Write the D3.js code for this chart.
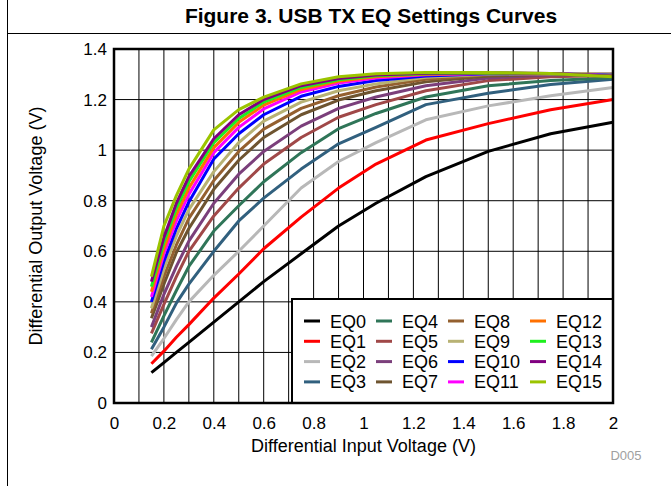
<!DOCTYPE html>
<html>
<head>
<meta charset="utf-8">
<script src="https://cdn.jsdelivr.net/npm/d3@7"></script>
<style>
  body { margin: 0; background: #fff; }
  text { font-family: "Liberation Sans", Arial, sans-serif; }
</style>
</head>
<body>
<div id="chart"></div>
<script>
"use strict";

// Input voltage sample points (V)
const inputV = [0.15, 0.2, 0.25, 0.3, 0.4, 0.5, 0.6, 0.75, 0.9, 1.05, 1.25, 1.5, 1.75, 2.0];

const seriesNames = ["EQ0", "EQ1", "EQ2", "EQ3", "EQ4", "EQ5", "EQ6", "EQ7",
                     "EQ8", "EQ9", "EQ10", "EQ11", "EQ12", "EQ13", "EQ14", "EQ15"];

const seriesColors = ["#000000", "#ff0000", "#b8b8b8", "#31607e", "#2f7558", "#a04848",
                      "#7b3f7b", "#6e5430", "#94602f", "#b8b274", "#0000ff", "#ff00ff",
                      "#ff7000", "#1ef01e", "#800080", "#9bc400"];

// Output voltage per EQ setting
const eq0  = [0.12, 0.16, 0.20, 0.24, 0.32, 0.40, 0.48, 0.59, 0.70, 0.79, 0.895, 0.995, 1.065, 1.11];
const eq1  = [0.155, 0.205, 0.26, 0.31, 0.415, 0.51, 0.61, 0.735, 0.85, 0.945, 1.04, 1.105, 1.16, 1.20];
const eq2  = [0.185, 0.255, 0.33, 0.40, 0.505, 0.60, 0.70, 0.85, 0.955, 1.03, 1.12, 1.175, 1.215, 1.248];
const eq3  = [0.213, 0.30, 0.395, 0.47, 0.60, 0.72, 0.81, 0.925, 1.025, 1.09, 1.18, 1.225, 1.26, 1.28];
const eq4  = [0.24, 0.345, 0.445, 0.54, 0.68, 0.78, 0.875, 0.99, 1.085, 1.145, 1.21, 1.255, 1.275, 1.286];
const eq5  = [0.275, 0.39, 0.50, 0.60, 0.74, 0.85, 0.945, 1.05, 1.13, 1.18, 1.235, 1.275, 1.29, 1.295];
const eq6  = [0.30, 0.43, 0.54, 0.64, 0.79, 0.905, 0.995, 1.095, 1.165, 1.21, 1.255, 1.285, 1.297, 1.30];
const eq7  = [0.335, 0.47, 0.595, 0.69, 0.845, 0.96, 1.05, 1.14, 1.198, 1.235, 1.27, 1.293, 1.30, 1.30];
const eq8  = [0.355, 0.50, 0.625, 0.73, 0.88, 0.995, 1.083, 1.165, 1.215, 1.25, 1.28, 1.298, 1.302, 1.30];
const eq9  = [0.375, 0.53, 0.66, 0.765, 0.915, 1.03, 1.115, 1.19, 1.235, 1.262, 1.288, 1.30, 1.302, 1.298];
const eq10 = [0.40, 0.56, 0.69, 0.795, 0.965, 1.065, 1.14, 1.213, 1.252, 1.275, 1.293, 1.302, 1.302, 1.296];
const eq11 = [0.42, 0.59, 0.72, 0.825, 0.99, 1.09, 1.163, 1.23, 1.265, 1.285, 1.298, 1.303, 1.302, 1.294];
const eq12 = [0.44, 0.61, 0.745, 0.85, 1.01, 1.11, 1.178, 1.24, 1.272, 1.29, 1.30, 1.304, 1.302, 1.293];
const eq13 = [0.46, 0.635, 0.77, 0.875, 1.03, 1.125, 1.19, 1.248, 1.278, 1.294, 1.302, 1.305, 1.302, 1.292];
const eq14 = [0.48, 0.655, 0.79, 0.895, 1.045, 1.14, 1.20, 1.255, 1.283, 1.297, 1.304, 1.306, 1.303, 1.292];
const eq15 = [0.50, 0.70, 0.82, 0.925, 1.08, 1.16, 1.21, 1.262, 1.29, 1.302, 1.307, 1.307, 1.303, 1.29];

const outputV = [eq0, eq1, eq2, eq3, eq4, eq5, eq6, eq7, eq8, eq9, eq10, eq11, eq12, eq13, eq14, eq15];

const xTickLabels = [0, 0.2, 0.4, 0.6, 0.8, 1, 1.2, 1.4, 1.6, 1.8, 2];
const yTickLabels = [0, 0.2, 0.4, 0.6, 0.8, 1, 1.2, 1.4];

const width = 671, height = 486;
const plot = { left: 114, top: 49, right: 613, bottom: 403 };

const svg = d3.select("#chart").append("svg")
    .attr("width", width)
    .attr("height", height);

// Outer frame and title
svg.append("line").attr("x1", 7.5).attr("x2", 7.5).attr("y1", 0).attr("y2", height)
    .attr("stroke", "#000").attr("stroke-width", 1);
svg.append("line").attr("x1", 7).attr("x2", width).attr("y1", 33.5).attr("y2", 33.5)
    .attr("stroke", "#000").attr("stroke-width", 1);
svg.append("text")
    .attr("x", 371).attr("y", 23)
    .attr("text-anchor", "middle")
    .attr("font-size", "21px")
    .attr("font-weight", "bold")
    .text("Figure 3. USB TX EQ Settings Curves");

const x = d3.scaleLinear().domain([0, 2]).range([plot.left, plot.right]);
const y = d3.scaleLinear().domain([0, 1.4]).range([plot.bottom, plot.top]);

// Grid
const grid = svg.append("g");
grid.selectAll(".vgrid")
    .data(d3.range(1, 20).map(i => i / 10))
    .enter().append("line")
    .attr("x1", d => x(d)).attr("x2", d => x(d))
    .attr("y1", plot.top).attr("y2", plot.bottom)
    .attr("stroke", "#000").attr("stroke-width", 1);
grid.selectAll(".hgrid")
    .data(yTickLabels.slice(1, -1))
    .enter().append("line")
    .attr("x1", plot.left).attr("x2", plot.right)
    .attr("y1", d => y(d)).attr("y2", d => y(d))
    .attr("stroke", "#000").attr("stroke-width", 1);

// Axes (labels only, frame drawn separately)
const xAxis = svg.append("g")
    .attr("transform", "translate(0," + plot.bottom + ")")
    .call(d3.axisBottom(x).tickValues(xTickLabels).tickSize(0).tickPadding(14).tickFormat(d3.format("")));
const yAxis = svg.append("g")
    .attr("transform", "translate(" + plot.left + ",0)")
    .call(d3.axisLeft(y).tickValues(yTickLabels).tickSize(0).tickPadding(7).tickFormat(d3.format("")));
[xAxis, yAxis].forEach(a => {
    a.select(".domain").remove();
    a.selectAll("text").attr("font-size", "17px").attr("fill", "#000")
        .attr("font-family", "Liberation Sans, Arial, sans-serif");
});

svg.append("text")
    .attr("x", (plot.left + plot.right) / 2).attr("y", 452)
    .attr("text-anchor", "middle")
    .attr("font-size", "18px")
    .text("Differential Input Voltage (V)");
svg.append("text")
    .attr("transform", "translate(42," + (plot.top + plot.bottom) / 2 + ") rotate(-90)")
    .attr("text-anchor", "middle")
    .attr("font-size", "18px")
    .text("Differential Output Voltage (V)");
svg.append("text")
    .attr("x", 626).attr("y", 460)
    .attr("text-anchor", "middle")
    .attr("font-size", "13px")
    .attr("fill", "#a0a0a0")
    .text("D005");

// Curves
const line = d3.line()
    .x((d, i) => x(inputV[i]))
    .y(d => y(d));

svg.append("g").selectAll(".curve")
    .data(outputV)
    .enter().append("path")
    .attr("class", "curve")
    .attr("d", d => line(d))
    .attr("fill", "none")
    .attr("stroke", (d, i) => seriesColors[i])
    .attr("stroke-width", 3)
    .attr("stroke-linejoin", "round");

// Legend
const legend = svg.append("g");
legend.append("rect")
    .attr("x", 292).attr("y", 299)
    .attr("width", plot.right - 292).attr("height", plot.bottom - 299)
    .attr("fill", "#fff").attr("stroke", "#000").attr("stroke-width", 2);

const legendCols = [304, 376, 448, 530];
const item = legend.selectAll(".item")
    .data(seriesNames)
    .enter().append("g")
    .attr("transform", (d, i) => "translate(" + legendCols[Math.floor(i / 4)] + "," + (321 + (i % 4) * 20.3) + ")");
item.append("line")
    .attr("x1", 0).attr("x2", 16)
    .attr("stroke", (d, i) => seriesColors[i])
    .attr("stroke-width", 3);
item.append("text")
    .attr("x", 26).attr("y", 6.5)
    .attr("font-size", "18px")
    .text(d => d);

// Plot frame
svg.append("rect")
    .attr("x", plot.left).attr("y", plot.top)
    .attr("width", plot.right - plot.left).attr("height", plot.bottom - plot.top)
    .attr("fill", "none").attr("stroke", "#000").attr("stroke-width", 2.5);
</script>
</body>
</html>
